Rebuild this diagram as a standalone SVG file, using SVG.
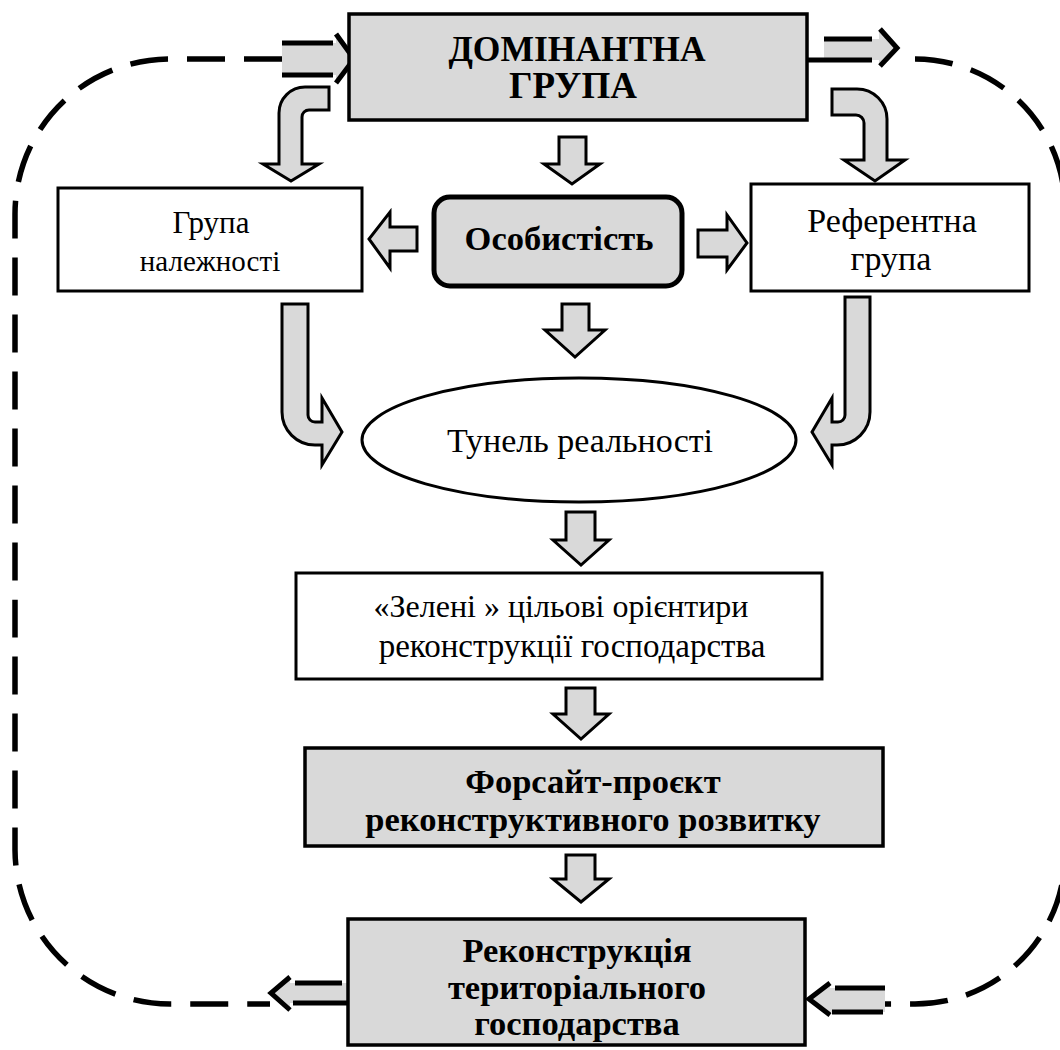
<svg xmlns="http://www.w3.org/2000/svg" width="1060" height="1050" viewBox="0 0 1060 1050">
<style>
.box{fill:#d9d9d9;stroke:#000;stroke-width:3.5}
.wbox{fill:#fff;stroke:#000;stroke-width:3}
.arr{fill:#d9d9d9;stroke:#000;stroke-width:3;stroke-linejoin:miter}
.dash{fill:none;stroke:#000;stroke-width:5.5;stroke-dasharray:38 19}
.bar{fill:none;stroke:#000;stroke-width:5}
.sfill{fill:#d9d9d9;stroke:none}
text{font-family:"Liberation Serif","Times New Roman",serif;fill:#000;text-anchor:middle}
.b{font-weight:bold;font-size:34.5px}
.r{font-size:29px}
</style>
<rect width="1060" height="1050" fill="#fff"/>
<g id="connectors">
  <path class="dash" d="M282,59 H170 A155,155 0 0 0 15,214 V850 A155,155 0 0 0 170,1004 H270"/>
  <path class="dash" d="M915,59 A150,150 0 0 1 1065,209 V854 A150,150 0 0 1 915,1004 H885"/>
  <path class="sfill" d="M282,43 H336 V34 L355,59 L336,83 V75 H282 Z"/>
  <path class="bar" d="M282,43 H333 M282,75 H333 M336,34 L354,59 L336,83"/>
  <path class="sfill" d="M824,39 H879 V29 L897,48 L879,66 V60 H824 Z"/>
  <path class="bar" d="M824,39 H872 M808,60 H872 M880,29 L897,48 L880,66"/>
  <path class="sfill" d="M347,983 H290 V977 L271,993 L290,1010 V1003 H347 Z"/>
  <path class="bar" d="M295,983 H342 M293,1003 H348 M290,977 L271,993 L290,1010"/>
  <path class="sfill" d="M885,988 H830 V983 L808,999 L830,1015 V1012 H885 Z"/>
  <path class="bar" d="M835,988 H885 M832,1012 H883 M830,983 L809,999 L830,1015"/>
  <path class="arr" d="M329,87 H305 A26,26 0 0 0 279,113 V164 H263 L291,181 L319,164 H302 V117 A7,7 0 0 1 309,110 H329 Z"/>
  <path class="arr" d="M832,89 H857 A30,30 0 0 1 887,119 V160 H905 L875,181 L844,160 H864 V123 A8,8 0 0 0 856,115 H832 Z"/>
  <path class="arr" d="M282,304 H308 V415 A7,7 0 0 0 315,422 H322 V398 L342,432 L322,465 V445 H315 A33,33 0 0 1 282,412 Z"/>
  <path class="arr" d="M870,297 V412 A33,33 0 0 1 837,445 H832 V465 L812,432 L832,398 V422 H838 A7,7 0 0 0 845,415 V297 Z"/>
  <path class="arr" d="M559,137 H586 V164 H600 L572,184 L544,164 H559 Z"/>
  <path class="arr" d="M562,304 H589 V330 H605 L575,357 L545,330 H562 Z"/>
  <path class="arr" d="M417,227 V251 H390 V268 L369,239 L390,212 V227 Z"/>
  <path class="arr" d="M698,230 H727 V215 L747,243 L727,270 V257 H698 Z"/>
  <path class="arr" d="M566,512 H595 V540 H609 L581,565 L553,540 H566 Z"/>
  <path class="arr" d="M566,688 H595 V714 H609 L581,739 L553,714 H566 Z"/>
  <path class="arr" d="M566,855 H595 V879 H609 L581,902 L553,879 H566 Z"/>
</g>
<g id="dominant">
  <rect class="box" x="349" y="14" width="458" height="106"/>
  <text class="b" x="577" y="61" style="font-size:35.5px">ДОМІНАНТНА</text>
  <text class="b" x="573" y="98" style="font-size:37px">ГРУПА</text>
</g>
<g id="group-belonging">
  <rect class="wbox" x="58" y="188" width="304" height="103"/>
  <text class="r" x="211" y="233" style="font-size:31px">Група</text>
  <text class="r" x="210" y="271">належності</text>
</g>
<g id="personality">
  <rect x="434" y="197" width="248" height="89" rx="16" fill="#d9d9d9" stroke="#000" stroke-width="5"/>
  <text class="b" x="559" y="250">Особистість</text>
</g>
<g id="reference-group">
  <rect class="wbox" x="751" y="184" width="278" height="107"/>
  <text class="r" x="892" y="232" style="font-size:34px">Референтна</text>
  <text class="r" x="891" y="270" style="font-size:34px">група</text>
</g>
<g id="reality-tunnel">
  <ellipse cx="579" cy="440" rx="217" ry="62" fill="#fff" stroke="#000" stroke-width="3"/>
  <text x="580" y="452" style="font-size:34px">Тунель реальності</text>
</g>
<g id="green-goals">
  <rect class="wbox" x="296" y="573" width="526" height="106"/>
  <text class="r" x="561" y="617" style="font-size:32px">«Зелені » цільові орієнтири</text>
  <text class="r" x="572" y="657" style="font-size:33px">реконструкції господарства</text>
</g>
<g id="foresight">
  <rect class="box" x="305" y="748" width="578" height="98"/>
  <text class="b" x="593" y="793">Форсайт-проєкт</text>
  <text class="b" x="593" y="831">реконструктивного розвитку</text>
</g>
<g id="reconstruction">
  <rect class="box" x="348" y="919" width="457" height="126"/>
  <text class="b" x="577" y="962">Реконструкція</text>
  <text class="b" x="577" y="999">територіального</text>
  <text class="b" x="577" y="1035">господарства</text>
</g>
</svg>
